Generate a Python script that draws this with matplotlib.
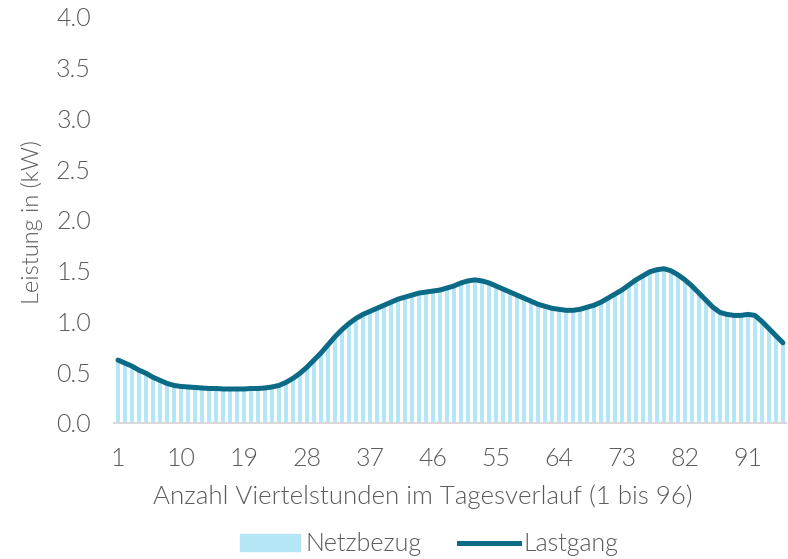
import numpy as np
import matplotlib
matplotlib.use("Agg")
import matplotlib.pyplot as plt
from matplotlib.lines import Line2D
from matplotlib.patches import Patch

# Lastgang (kW) per quarter hour, 1..96
lastgang = [
    0.62, 0.59, 0.56, 0.52, 0.49, 0.45, 0.42, 0.39, 0.37, 0.36,
    0.355, 0.35, 0.345, 0.34, 0.34, 0.335, 0.335, 0.335, 0.335, 0.34,
    0.34, 0.345, 0.355, 0.37, 0.40, 0.44, 0.49, 0.55, 0.62, 0.69,
    0.77, 0.85, 0.92, 0.98, 1.03, 1.07, 1.10, 1.13, 1.16, 1.19,
    1.22, 1.24, 1.26, 1.28, 1.29, 1.30, 1.31, 1.33, 1.35, 1.38,
    1.40, 1.41, 1.40, 1.38, 1.35, 1.32, 1.29, 1.26, 1.23, 1.20,
    1.17, 1.15, 1.13, 1.12, 1.11, 1.11, 1.12, 1.14, 1.16, 1.19,
    1.23, 1.27, 1.31, 1.36, 1.41, 1.45, 1.49, 1.51, 1.52, 1.50,
    1.46, 1.41, 1.35, 1.28, 1.21, 1.14, 1.09, 1.07, 1.06, 1.06,
    1.07, 1.06, 1.00, 0.93, 0.86, 0.79,
]
netzbezug = list(lastgang)
viertelstunden = list(range(1, 97))
x_ticks = list(range(1, 97, 9))
y_ticks = [0.0, 0.5, 1.0, 1.5, 2.0, 2.5, 3.0, 3.5, 4.0]

text_col = "#595959"
bar_col = "#B4E6F6"
line_col = "#0B6A86"
fs = 18
fw = 300

plt.rcParams["font.family"] = ["Lato", "DejaVu Sans"]
plt.rcParams["font.weight"] = fw
plt.rcParams["axes.labelweight"] = fw

fig = plt.figure(figsize=(7.88, 5.59), dpi=100)
ax = fig.add_axes([0.1453, 0.2433, 0.8527, 0.7263])

ax.bar(viertelstunden, netzbezug, width=0.58, color=bar_col, zorder=1)
ax.plot(viertelstunden, lastgang, color=line_col, lw=3.6,
        solid_joinstyle="round", solid_capstyle="round", zorder=3)

ax.set_xlim(0.5, 96.5)
ax.set_ylim(0, 4.0)
ax.set_xticks(x_ticks)
ax.set_xticklabels([str(t) for t in x_ticks], fontweight=fw)
ax.set_yticks(y_ticks)
ax.set_yticklabels([f"{t:.1f}" for t in y_ticks], fontweight=fw)
ax.tick_params(length=0, labelsize=fs, labelcolor=text_col, pad=17)

for s in ["top", "right", "left"]:
    ax.spines[s].set_visible(False)
ax.spines["bottom"].set_color("#D9D9D9")
ax.spines["bottom"].set_linewidth(1.5)

ax.set_xlabel("Anzahl Viertelstunden im Tagesverlauf (1 bis 96)",
              fontsize=18.6, color=text_col, fontweight=fw)
ax.xaxis.set_label_coords(0.459, -0.15)
ax.set_ylabel("Leistung in (kW)", fontsize=17, color=text_col, fontweight=fw)
ax.yaxis.set_label_coords(-0.106, 0.495)

handles = [Patch(color=bar_col, label="Netzbezug"),
           Line2D([0], [0], color=line_col, lw=3.6, label="Lastgang")]
leg = fig.legend(handles=handles, loc="center", bbox_to_anchor=(0.545, 0.026),
                 ncol=2, frameon=False, labelcolor=text_col,
                 prop={"weight": fw, "size": fs},
                 handlelength=2.4, handletextpad=0.2, columnspacing=1.5)

fig.savefig("out.png", dpi=100)
